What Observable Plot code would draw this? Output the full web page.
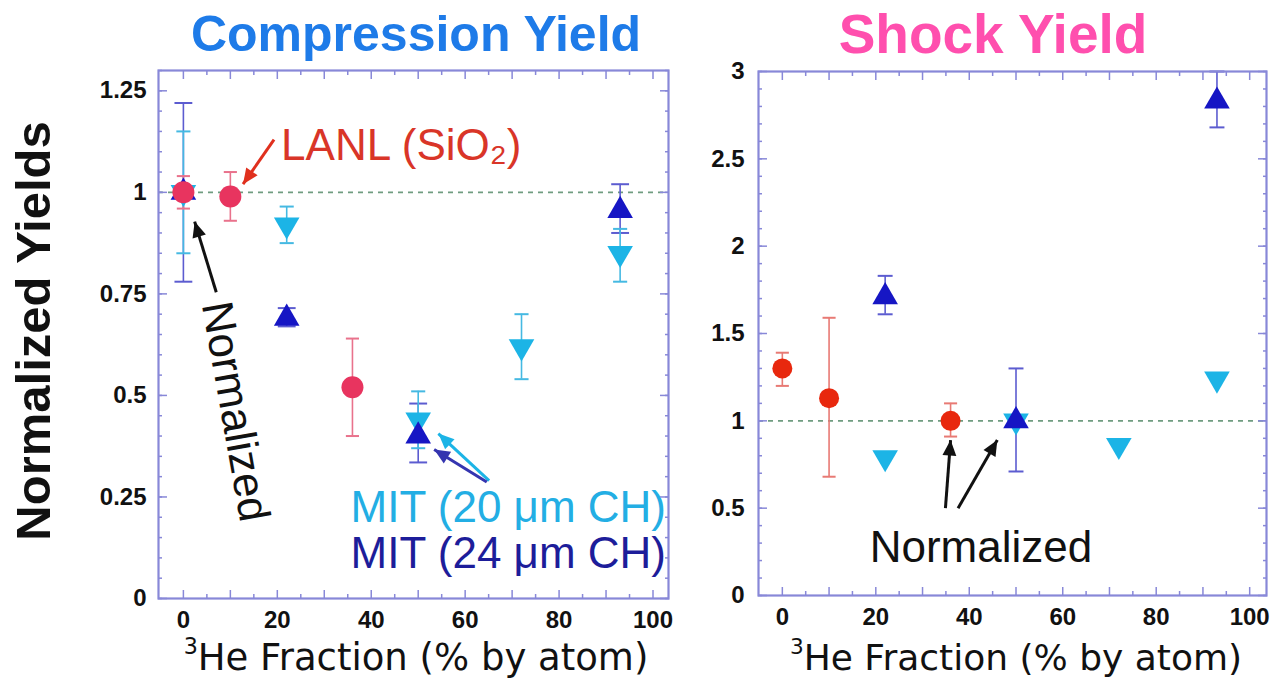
<!DOCTYPE html>
<html>
<head>
<meta charset="utf-8">
<script src="https://cdn.jsdelivr.net/npm/d3@7"></script>
<script src="https://cdn.jsdelivr.net/npm/@observablehq/plot@0.6"></script>
<style>
  html, body { margin: 0; padding: 0; background: #fff; }
  #page { position: relative; width: 1270px; height: 683px; overflow: hidden; background: #fff; }
  .abs { position: absolute; white-space: nowrap; }
  .title { font-family: "Liberation Sans", Arial, sans-serif; font-weight: bold; transform: translate(-50%, -50%); }
  .xlab { font-family: "DejaVu Sans", Verdana, sans-serif; color: #111; transform: translate(-50%, -50%); }
  .xlab sup { font-size: 60%; vertical-align: 0.72em; line-height: 0; }
  .ylab { font-family: "Liberation Sans", Arial, sans-serif; font-weight: bold; color: #111;
          transform: translate(-50%, -50%) rotate(-90deg); }
</style>
</head>
<body>
<div id="page">
  <div id="left" class="abs" style="left:0;top:0"></div>
  <div id="right" class="abs" style="left:680px;top:0"></div>
  <div class="abs title" style="left:416px;top:34px;font-size:50px;color:#1e7be8">Compression Yield</div>
  <div class="abs title" style="left:993px;top:34px;font-size:55px;color:#ff4fae">Shock Yield</div>
  <div class="abs ylab" style="left:33px;top:331px;font-size:49px">Normalized Yields</div>
  <div class="abs xlab" style="left:416px;top:657px;font-size:37px"><sup>3</sup>He Fraction (% by atom)</div>
  <div class="abs xlab" style="left:1016px;top:657px;font-size:36px"><sup>3</sup>He Fraction (% by atom)</div>
</div>
<script>
// ---------------- data ----------------
// x: 3He fraction (% by atom)
// Compression yield (left panel)
const compLanlX  = [0, 10, 36];
const compLanlY  = [1.00, 0.99, 0.52];
const compLanlLo = [0.96, 0.93, 0.40];
const compLanlHi = [1.04, 1.05, 0.64];

const compMit20X  = [0, 22, 50, 72, 93];
const compMit20Y  = [1.00, 0.92, 0.44, 0.62, 0.85];
const compMit20Lo = [0.85, 0.875, 0.37, 0.54, 0.78];
const compMit20Hi = [1.15, 0.965, 0.51, 0.70, 0.91];

const compMit24X  = [0, 22, 50, 93];
const compMit24Y  = [1.00, 0.69, 0.40, 0.955];
const compMit24Lo = [0.78, 0.67, 0.335, 0.90];
const compMit24Hi = [1.22, 0.715, 0.48, 1.02];

// Shock yield (right panel)
const shockLanlX  = [0, 10, 36];
const shockLanlY  = [1.30, 1.13, 1.00];
const shockLanlLo = [1.20, 0.68, 0.91];
const shockLanlHi = [1.39, 1.59, 1.10];

const shockMit20X = [22, 50, 72, 93];
const shockMit20Y = [0.79, 1.00, 0.86, 1.24];

const shockMit24X  = [22, 50, 93];
const shockMit24Y  = [1.71, 1.00, 2.83];
const shockMit24Lo = [1.61, 0.71, 2.68];
const shockMit24Hi = [1.83, 1.30, 3.00];

// tick labels
const xTickLabels = [0, 20, 40, 60, 80, 100];
const compYTickLabels = [0, 0.25, 0.5, 0.75, 1, 1.25];
const shockYTickLabels = [0, 0.5, 1, 1.5, 2, 2.5, 3];

// annotation texts
const lanlLabel = "LANL (SiO\u2082)";
const mit20Label = "MIT (20 \u03bcm CH)";
const mit24Label = "MIT (24 \u03bcm CH)";
const normLabel = "Normalized";

// ---------------- helpers ----------------
const zip = (xs, ys, lo, hi) => xs.map((x, i) => ({x, y: ys[i], lo: lo ? lo[i] : null, hi: hi ? hi[i] : null}));

const FRAME = "#8888d8";
const PINK = "#e8345f", PINK_ERR = "#e9728c";
const RED = "#e8280e", RED_ERR = "#e87a74";
const CYAN = "#1cb4e6", CYAN_ERR = "#45b9e2";
const BLUE = "#1616c4", BLUE_ERR = "#5c5cd0";
const DASH = "#6f9c80";
const TICKFONT = {fontFamily: "Liberation Sans, Arial, sans-serif", fontWeight: "bold", fontSize: 24, fill: "#111"};
const ANNFONT = "Liberation Sans, Arial, sans-serif";

// solid triangular arrowhead marker
function solidArrow(color) {
  const ns = "http://www.w3.org/2000/svg";
  const m = document.createElementNS(ns, "marker");
  m.setAttribute("viewBox", "-9 -4 9 8");
  m.setAttribute("markerWidth", "5.2");
  m.setAttribute("markerHeight", "4.7");
  m.setAttribute("orient", "auto");
  m.setAttribute("overflow", "visible");
  const p = document.createElementNS(ns, "path");
  p.setAttribute("d", "M-9,-4L0,0L-9,4Z");
  p.setAttribute("fill", color);
  p.setAttribute("stroke", "none");
  m.append(p);
  return m;
}
function arrow(data, color) {
  return Plot.link(data, {x1: "x1", y1: "y1", x2: "x2", y2: "y2", stroke: color, strokeWidth: 3, markerEnd: solidArrow});
}

function errorBars(data, color, cap) {
  return [
    Plot.ruleX(data, {x: "x", y1: "lo", y2: "hi", stroke: color, strokeWidth: 1.6}),
    Plot.link(data, {x1: d => d.x - cap, x2: d => d.x + cap, y1: "lo", y2: "lo", stroke: color, strokeWidth: 2}),
    Plot.link(data, {x1: d => d.x - cap, x2: d => d.x + cap, y1: "hi", y2: "hi", stroke: color, strokeWidth: 2})
  ];
}

function frameAxes(xMajor, xMinor, yLabels, yMajor, yMinor, labelPad) {
  const tk = {stroke: FRAME, strokeWidth: 1.5, text: null, label: null};
  return [
    Plot.axisX({ticks: xTickLabels, anchor: "bottom", tickSize: 0, tickPadding: 12, label: null, ...TICKFONT}),
    Plot.axisX({ticks: xMajor, anchor: "bottom", tickSize: -8, ...tk}),
    Plot.axisX({ticks: xMinor, anchor: "bottom", tickSize: -4, ...tk}),
    Plot.axisX({ticks: xMajor, anchor: "top", tickSize: -8, ...tk}),
    Plot.axisX({ticks: xMinor, anchor: "top", tickSize: -4, ...tk}),
    Plot.axisY({ticks: yLabels, anchor: "left", tickSize: 0, tickPadding: labelPad, tickFormat: d => String(d), label: null, ...TICKFONT}),
    Plot.axisY({ticks: yMajor, anchor: "left", tickSize: -9, ...tk}),
    Plot.axisY({ticks: yMinor, anchor: "left", tickSize: -4, ...tk}),
    Plot.axisY({ticks: yMajor, anchor: "right", tickSize: -9, ...tk}),
    Plot.axisY({ticks: yMinor, anchor: "right", tickSize: -4, ...tk}),
    Plot.frame({stroke: FRAME, strokeWidth: 2.2})
  ];
}

const xMajor10 = d3.range(0, 101, 10);
const xMinor5 = d3.range(5, 101, 10);

// ---------------- left: compression yield ----------------
const cLanl = zip(compLanlX, compLanlY, compLanlLo, compLanlHi);
const cM20 = zip(compMit20X, compMit20Y, compMit20Lo, compMit20Hi);
const cM24 = zip(compMit24X, compMit24Y, compMit24Lo, compMit24Hi);

const leftPlot = Plot.plot({
  width: 680, height: 683,
  marginLeft: 158, marginRight: 12, marginTop: 70, marginBottom: 85,
  x: {domain: [-5.3, 103.3]},
  y: {domain: [0, 1.3]},
  marks: [
    Plot.ruleY([1], {stroke: DASH, strokeWidth: 1.6, strokeDasharray: "5,5"}),
    ...errorBars(cM24, BLUE_ERR, 1.9),
    ...errorBars(cM20, CYAN_ERR, 1.5),
    ...errorBars(cLanl, PINK_ERR, 1.4),
    Plot.dot(cM20, {x: "x", y: "y", symbol: "triangle", r: 9.5, fill: CYAN, rotate: 180}),
    Plot.dot(cM24, {x: "x", y: "y", symbol: "triangle", r: 9.5, fill: BLUE}),
    Plot.dot(cLanl, {x: "x", y: "y", r: 11, fill: PINK}),
    // annotations
    arrow([{x1: 19.3, y1: 1.13, x2: 12.7, y2: 1.02}], "#e0301e"),
    Plot.text([lanlLabel], {x: 20.8, y: 1.115, text: d => d, textAnchor: "start", fill: "#d93528", fontSize: 44, fontFamily: ANNFONT}),
    arrow([{x1: 7.0, y1: 0.754, x2: 2.4, y2: 0.928}], "#111"),
    Plot.text([normLabel], {x: 11.0, y: 0.46, text: d => d, rotate: 80, fill: "#111", fontSize: 44, fontFamily: ANNFONT}),
    arrow([{x1: 65.1, y1: 0.29, x2: 54.3, y2: 0.406}], CYAN),
    arrow([{x1: 64.6, y1: 0.287, x2: 53.4, y2: 0.367}], "#3535b0"),
    Plot.text([mit20Label], {x: 35.6, y: 0.222, text: d => d, textAnchor: "start", fill: "#23aee4", fontSize: 44, fontFamily: ANNFONT}),
    Plot.text([mit24Label], {x: 35.6, y: 0.111, text: d => d, textAnchor: "start", fill: "#1d1d9a", fontSize: 44, fontFamily: ANNFONT}),
    ...frameAxes(xMajor10, xMinor5, compYTickLabels, d3.range(0, 1.31, 0.25), d3.range(0, 1.31, 0.05), 12)
  ]
});
document.getElementById("left").append(leftPlot);

// ---------------- right: shock yield ----------------
const sLanl = zip(shockLanlX, shockLanlY, shockLanlLo, shockLanlHi);
const sM20 = zip(shockMit20X, shockMit20Y);
const sM24 = zip(shockMit24X, shockMit24Y, shockMit24Lo, shockMit24Hi);

const rightPlot = Plot.plot({
  width: 590, height: 683,
  marginLeft: 78, marginRight: 4, marginTop: 71, marginBottom: 88,
  x: {domain: [-5.1, 103.6]},
  y: {domain: [0, 3]},
  marks: [
    Plot.ruleY([1], {stroke: DASH, strokeWidth: 1.6, strokeDasharray: "5,5"}),
    ...errorBars(sM24, BLUE_ERR, 1.6),
    ...errorBars(sLanl, RED_ERR, 1.4),
    Plot.dot(sM20, {x: "x", y: "y", symbol: "triangle", r: 9.5, fill: CYAN, rotate: 180}),
    Plot.dot(sM24, {x: "x", y: "y", symbol: "triangle", r: 9.5, fill: BLUE}),
    Plot.dot(sLanl, {x: "x", y: "y", r: 10, fill: RED}),
    arrow([{x1: 34.9, y1: 0.50, x2: 36.0, y2: 0.89}, {x1: 37.6, y1: 0.50, x2: 46.0, y2: 0.89}], "#111"),
    Plot.text([normLabel], {x: 42.5, y: 0.27, text: d => d, fill: "#111", fontSize: 44, fontFamily: ANNFONT}),
    ...frameAxes(xMajor10, xMinor5, shockYTickLabels, d3.range(0, 3.01, 0.5), d3.range(0, 3.01, 0.1), 14)
  ]
});
document.getElementById("right").append(rightPlot);
</script>
</body>
</html>
